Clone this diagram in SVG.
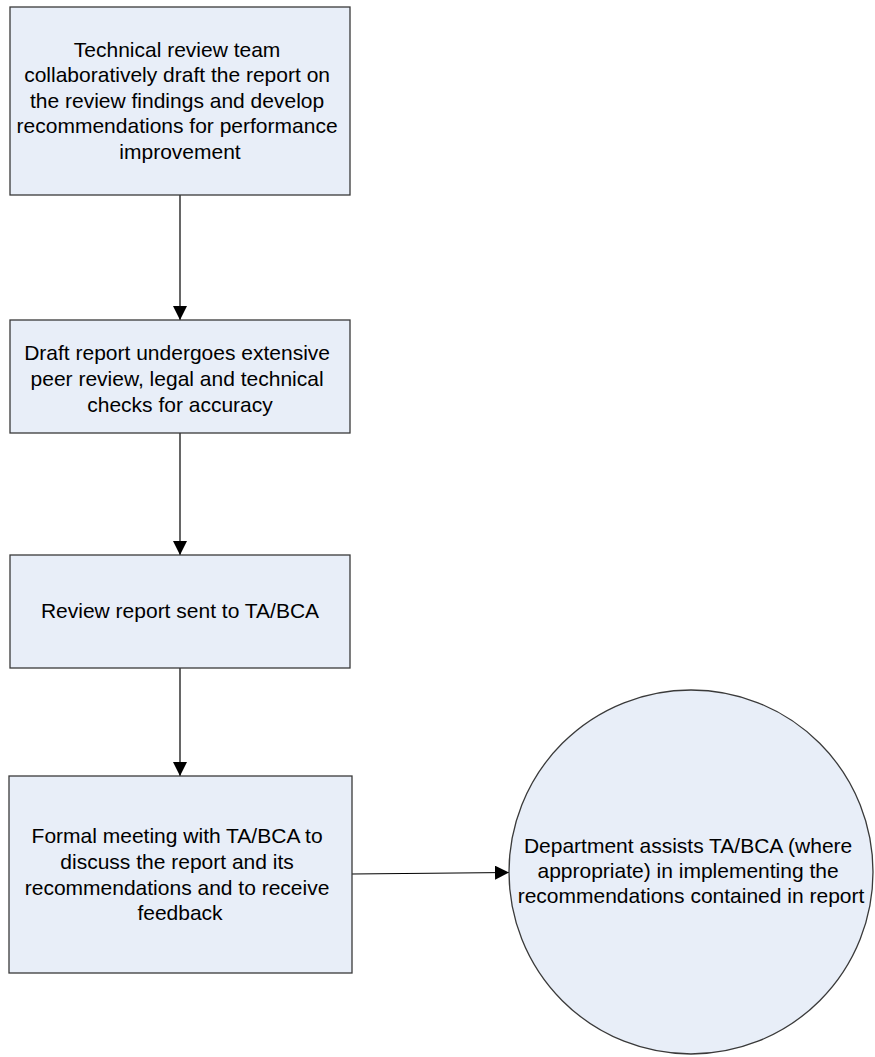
<svg xmlns="http://www.w3.org/2000/svg" width="875" height="1057" viewBox="0 0 875 1057">
  <defs>
    <style>
      .node { fill: #E8EEF8; stroke: #3a3a3a; stroke-width: 1.3; }
      .label { font-family: "Liberation Sans", Arial, sans-serif; font-size: 21px; fill: #000; text-anchor: middle; }
      .conn { stroke: #000; stroke-width: 1.2; fill: none; marker-end: url(#arrow); }
    </style>
    <marker id="arrow" viewBox="0 0 14 14" refX="14" refY="7" markerWidth="14" markerHeight="14" markerUnits="userSpaceOnUse" orient="auto">
      <path d="M0,0 L14,7 L0,14 Z" fill="#000"/>
    </marker>
  </defs>
  <rect width="875" height="1057" fill="#fff"/>

  <g id="connectors">
    <line class="conn" x1="180" y1="195" x2="180" y2="320"/>
    <line class="conn" x1="180" y1="433" x2="180" y2="555"/>
    <line class="conn" x1="180" y1="668" x2="180" y2="776"/>
    <line class="conn" x1="352" y1="874" x2="509" y2="872.5"/>
  </g>

  <g id="node-draft">
    <rect class="node" x="10" y="7" width="340" height="188"/>
    <text class="label">
      <tspan x="180" y="56.5">Technical review team</tspan>
      <tspan x="180" y="82">collaboratively draft the report on</tspan>
      <tspan x="180" y="107.5">the review findings and develop</tspan>
      <tspan x="180" y="133">recommendations for performance</tspan>
      <tspan x="180" y="158.5">improvement</tspan>
    </text>
  </g>

  <g id="node-peer-review">
    <rect class="node" x="10" y="320" width="340" height="113"/>
    <text class="label">
      <tspan x="180" y="360">Draft report undergoes extensive</tspan>
      <tspan x="180" y="386">peer review, legal and technical</tspan>
      <tspan x="180" y="412">checks for accuracy</tspan>
    </text>
  </g>

  <g id="node-sent">
    <rect class="node" x="10" y="555" width="340" height="113"/>
    <text class="label" x="180" y="618">Review report sent to TA/BCA</text>
  </g>

  <g id="node-meeting">
    <rect class="node" x="9" y="776" width="343" height="197"/>
    <text class="label">
      <tspan x="180" y="843">Formal meeting with TA/BCA to</tspan>
      <tspan x="180" y="869">discuss the report and its</tspan>
      <tspan x="180" y="894.5">recommendations and to receive</tspan>
      <tspan x="180" y="920">feedback</tspan>
    </text>
  </g>

  <g id="node-implement">
    <circle class="node" cx="691" cy="872" r="182"/>
    <text class="label">
      <tspan x="691" y="853">Department assists TA/BCA (where</tspan>
      <tspan x="691" y="878">appropriate) in implementing the</tspan>
      <tspan x="691" y="903">recommendations contained in report</tspan>
    </text>
  </g>
</svg>
